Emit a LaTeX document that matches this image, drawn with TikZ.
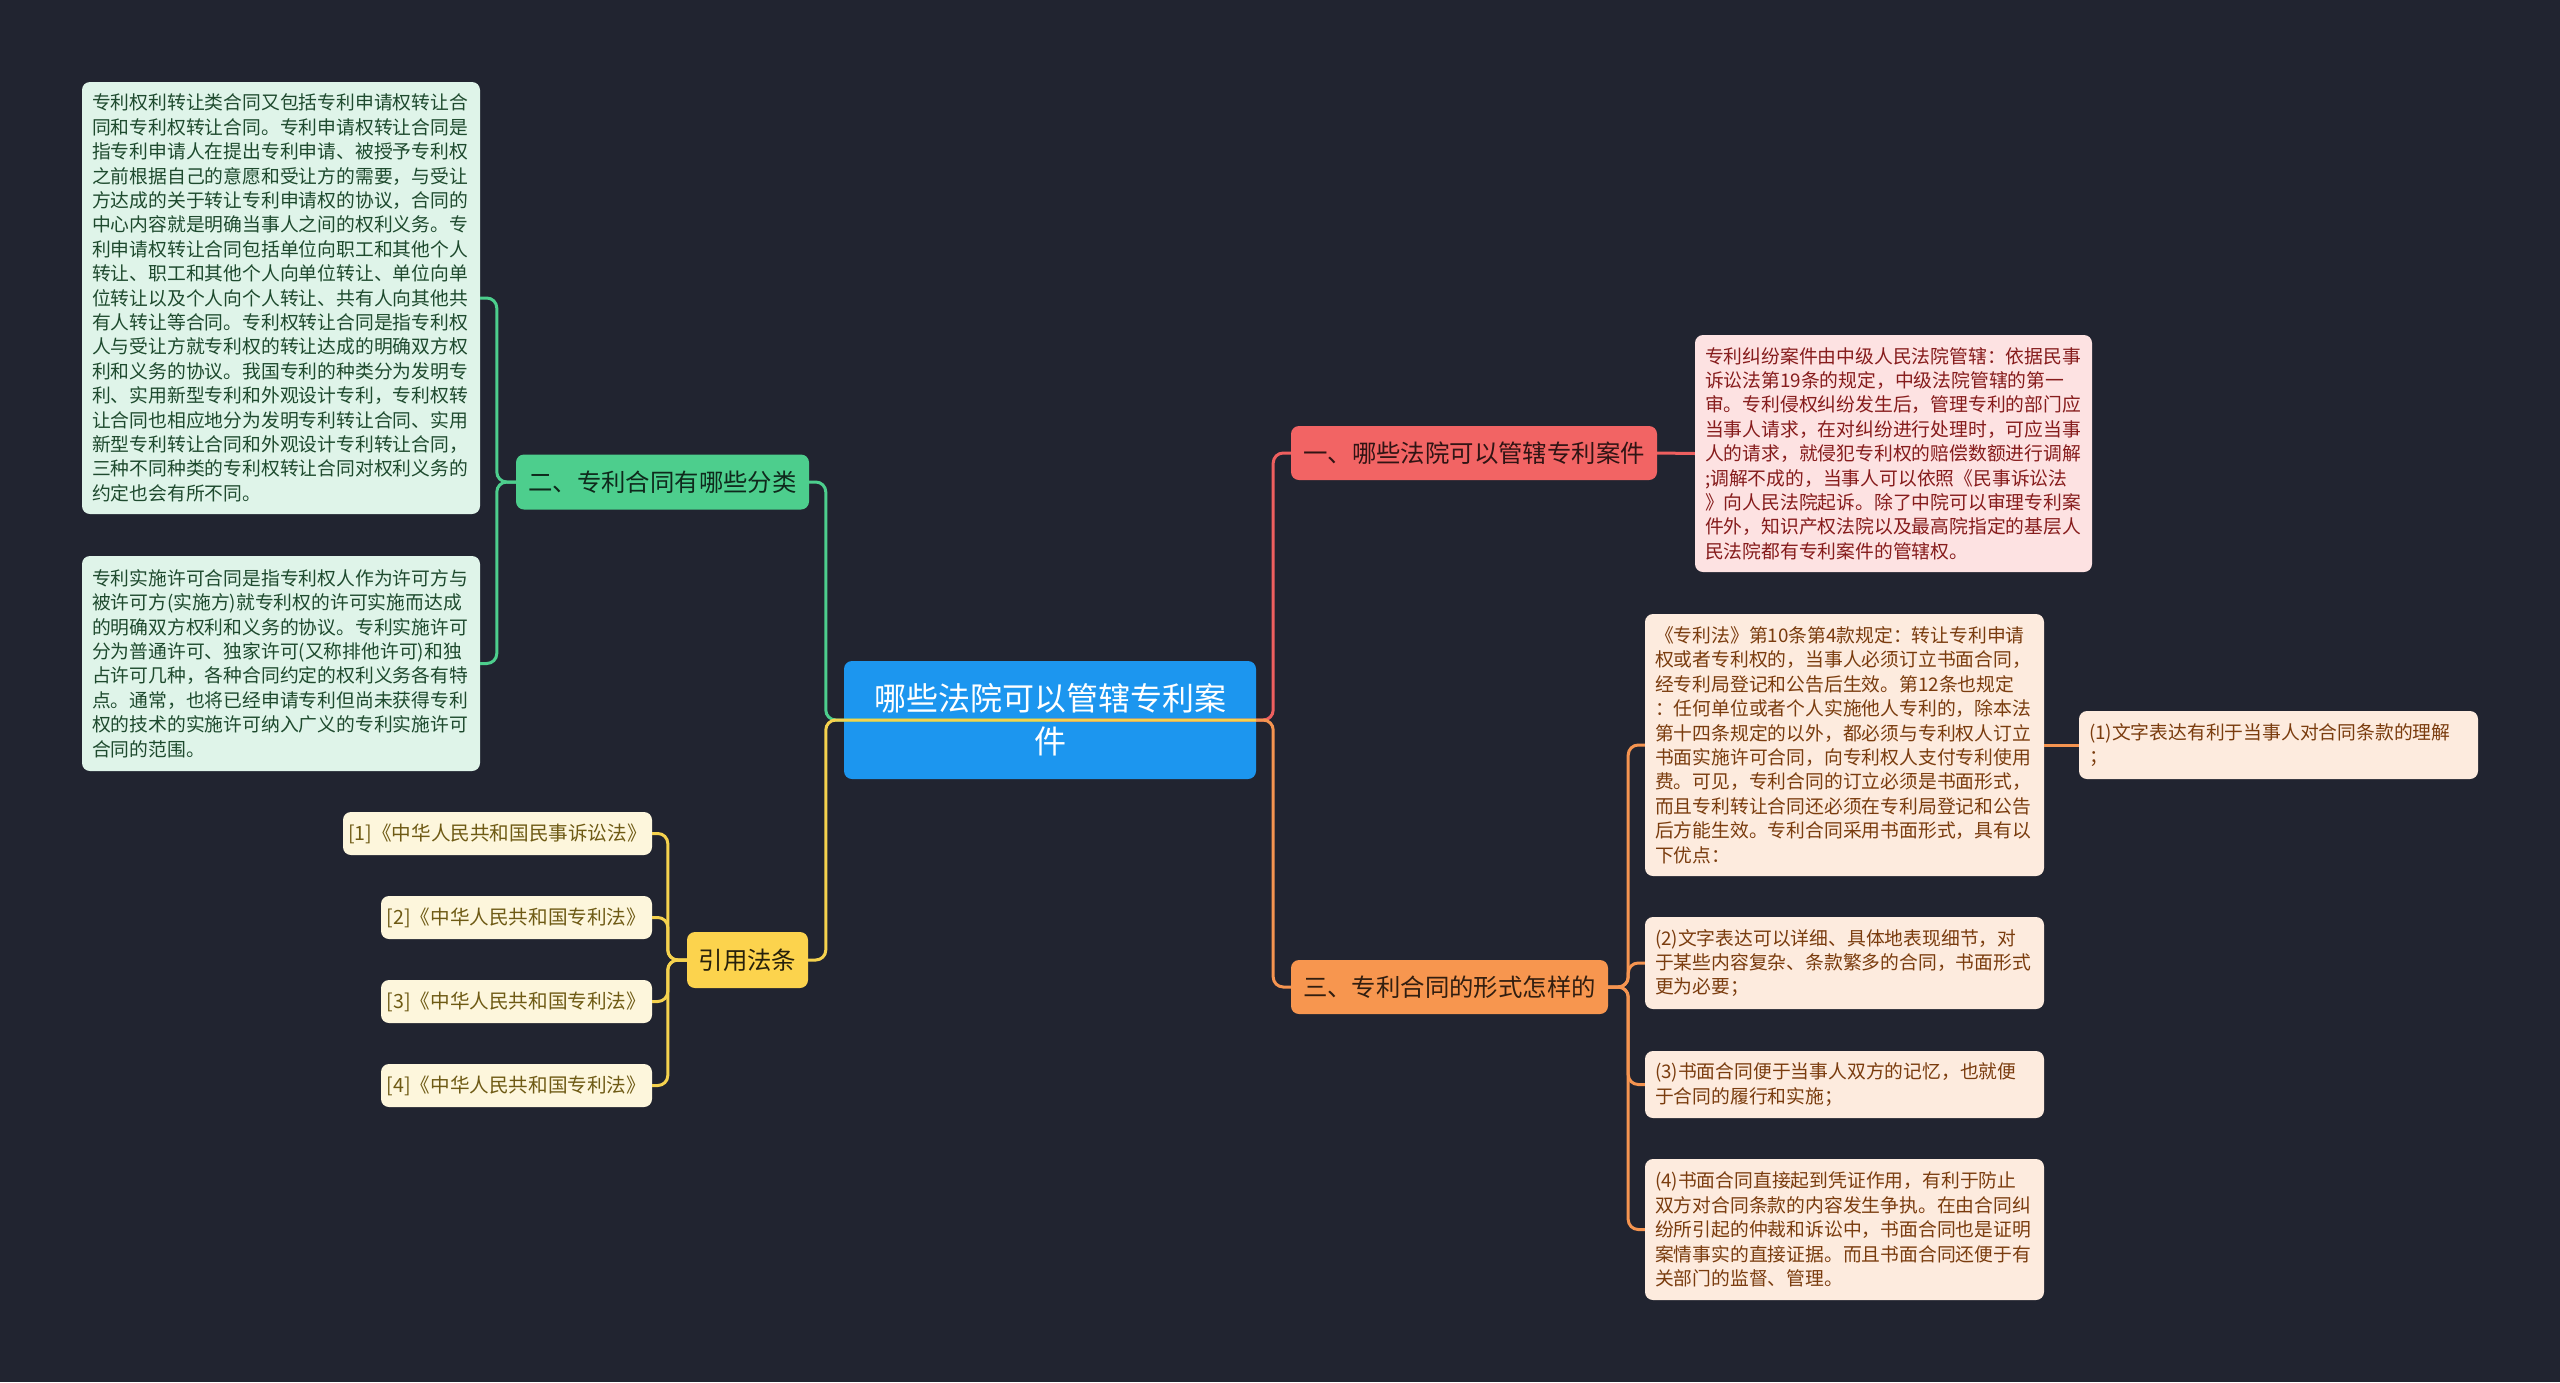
\documentclass[tikz,border=0pt]{standalone}
\usepackage{fontspec}
\setmainfont{Noto Sans CJK SC}
\definecolor{bg}{HTML}{212430}
\definecolor{rootc}{HTML}{1C96EF}
\definecolor{redc}{HTML}{F26464}
\definecolor{orgc}{HTML}{F7964F}
\definecolor{grnc}{HTML}{4DCE8D}
\definecolor{ylwc}{HTML}{FCD34D}
\definecolor{redln}{HTML}{EE5F5F}
\definecolor{orgln}{HTML}{F59450}
\definecolor{grnln}{HTML}{4DCE8D}
\definecolor{ylwln}{HTML}{F5D24E}
\definecolor{redfill}{HTML}{FDE2E2}
\definecolor{redtxt}{HTML}{861C1C}
\definecolor{orgfill}{HTML}{FDEBDE}
\definecolor{orgtxt}{HTML}{7A3C0E}
\definecolor{grnfill}{HTML}{DFF4E9}
\definecolor{grntxt}{HTML}{1E4A2E}
\definecolor{citfill}{HTML}{FDF6DC}
\definecolor{cittxt}{HTML}{6E5A14}
\begin{document}
\begin{tikzpicture}[x=1pt,y=-1pt,
  boxbase/.style={rounded corners=8pt, inner sep=0pt, anchor=center},
  detail/.style={boxbase, align=left, font=\fontsize{18.8}{24.4}\selectfont},
  lvlone/.style={boxbase, align=center, minimum height=54pt, font=\fontsize{24.4}{30}\selectfont},
  cite/.style={boxbase, align=center, minimum height=43pt, fill=citfill, text=cittxt, font=\fontsize{19.6}{24}\selectfont},
  conn/.style={line width=3pt, rounded corners=10pt}
]
\fill[bg] (0,0) rectangle (2560,1382);
\useasboundingbox (0,0) rectangle (2560,1382);

% root
\node[boxbase, fill=rootc, text=white, align=center, minimum width=412pt, minimum height=118pt,
  font=\fontsize{32}{43}\selectfont] (root) at (1050,720) {哪些法院可以管辖专利案\\件};

% level one
\node[lvlone, fill=redc, text=black!80!redc, minimum width=366pt] (n1) at (1474,453) {一、哪些法院可以管辖专利案件};
\node[lvlone, fill=orgc, text=black!80!orgc, minimum width=317pt] (n3) at (1449.5,987) {三、专利合同的形式怎样的};
\node[lvlone, fill=grnc, text=black!80!grnc, minimum width=293pt, minimum height=55pt] (n2) at (662.5,482) {二、专利合同有哪些分类};
\node[lvlone, fill=ylwc, text=black!85!ylwc, minimum width=121pt, minimum height=56pt] (n4) at (747.5,960) {引用法条};

% red detail
\node[detail, fill=redfill, text=redtxt, minimum width=397pt, minimum height=237pt, text width=377pt] (d1) at (1893.5,453.5) {专利纠纷案件由中级人民法院管辖：依据民事\\诉讼法第19条的规定，中级法院管辖的第一\\审。专利侵权纠纷发生后，管理专利的部门应\\当事人请求，在对纠纷进行处理时，可应当事\\人的请求，就侵犯专利权的赔偿数额进行调解\\;调解不成的，当事人可以依照《民事诉讼法\\》向人民法院起诉。除了中院可以审理专利案\\件外，知识产权法院以及最高院指定的基层人\\民法院都有专利案件的管辖权。};

% green details
\node[detail, fill=grnfill, text=grntxt, minimum width=398pt, minimum height=432pt, text width=378pt] (g1) at (281,298) {专利权利转让类合同又包括专利申请权转让合\\同和专利权转让合同。专利申请权转让合同是\\指专利申请人在提出专利申请、被授予专利权\\之前根据自己的意愿和受让方的需要，与受让\\方达成的关于转让专利申请权的协议，合同的\\中心内容就是明确当事人之间的权利义务。专\\利申请权转让合同包括单位向职工和其他个人\\转让、职工和其他个人向单位转让、单位向单\\位转让以及个人向个人转让、共有人向其他共\\有人转让等合同。专利权转让合同是指专利权\\人与受让方就专利权的转让达成的明确双方权\\利和义务的协议。我国专利的种类分为发明专\\利、实用新型专利和外观设计专利，专利权转\\让合同也相应地分为发明专利转让合同、实用\\新型专利转让合同和外观设计专利转让合同，\\三种不同种类的专利权转让合同对权利义务的\\约定也会有所不同。};
\node[detail, fill=grnfill, text=grntxt, minimum width=398pt, minimum height=215pt, text width=378pt] (g2) at (281,663.5) {专利实施许可合同是指专利权人作为许可方与\\被许可方(实施方)就专利权的许可实施而达成\\的明确双方权利和义务的协议。专利实施许可\\分为普通许可、独家许可(又称排他许可)和独\\占许可几种，各种合同约定的权利义务各有特\\点。通常，也将已经申请专利但尚未获得专利\\权的技术的实施许可纳入广义的专利实施许可\\合同的范围。};

% orange details
\node[detail, fill=orgfill, text=orgtxt, minimum width=399pt, minimum height=262pt, text width=379pt] (o0) at (1844.5,745) {《专利法》第10条第4款规定：转让专利申请\\权或者专利权的，当事人必须订立书面合同，\\经专利局登记和公告后生效。第12条也规定\\：任何单位或者个人实施他人专利的，除本法\\第十四条规定的以外，都必须与专利权人订立\\书面实施许可合同，向专利权人支付专利使用\\费。可见，专利合同的订立必须是书面形式，\\而且专利转让合同还必须在专利局登记和公告\\后方能生效。专利合同采用书面形式，具有以\\下优点：};
\node[detail, fill=orgfill, text=orgtxt, minimum width=399pt, minimum height=68pt, text width=379pt] (o1) at (2278.5,745) {(1)文字表达有利于当事人对合同条款的理解\\；};
\node[detail, fill=orgfill, text=orgtxt, minimum width=399pt, minimum height=92pt, text width=379pt] (o2) at (1844.5,963) {(2)文字表达可以详细、具体地表现细节，对\\于某些内容复杂、条款繁多的合同，书面形式\\更为必要；};
\node[detail, fill=orgfill, text=orgtxt, minimum width=399pt, minimum height=67pt, text width=379pt] (o3) at (1844.5,1084.5) {(3)书面合同便于当事人双方的记忆，也就便\\于合同的履行和实施；};
\node[detail, fill=orgfill, text=orgtxt, minimum width=399pt, minimum height=141pt, text width=379pt] (o4) at (1844.5,1229.5) {(4)书面合同直接起到凭证作用，有利于防止\\双方对合同条款的内容发生争执。在由合同纠\\纷所引起的仲裁和诉讼中，书面合同也是证明\\案情事实的直接证据。而且书面合同还便于有\\关部门的监督、管理。};

% citations
\node[cite, minimum width=309pt] (c1) at (497.5,833.5) {[1]《中华人民共和国民事诉讼法》};
\node[cite, minimum width=271pt] (c2) at (516.5,917.5) {[2]《中华人民共和国专利法》};
\node[cite, minimum width=271pt] (c3) at (516.5,1001.5) {[3]《中华人民共和国专利法》};
\node[cite, minimum width=271pt] (c4) at (516.5,1085.5) {[4]《中华人民共和国专利法》};

% connectors from root
\draw[conn, grnln] (root.center) -- (root.west) -- ++(-18,0) |- (n2.east);
\draw[conn, redln] (root.center) -- (root.east) -- ++(17,0) |- (n1.west);
\draw[conn, ylwln] (root.east) -- (root.west) -- ++(-18,0) |- (n4.east);
\draw[conn, orgln] (root.east) -- ++(17,0) |- (n3.west);

% green branch
\draw[conn, grnln] (n2.west) -- ++(-19,0) |- (g1.east);
\draw[conn, grnln] (n2.west) -- ++(-19,0) |- (g2.east);

% yellow branch
\draw[conn, ylwln] (n4.west) -- ++(-19,0) |- (c1.east);
\draw[conn, ylwln] (n4.west) -- ++(-19,0) |- (c2.east);
\draw[conn, ylwln] (n4.west) -- ++(-19,0) |- (c3.east);
\draw[conn, ylwln] (n4.west) -- ++(-19,0) |- (c4.east);

% red branch
\draw[conn, redln] (n1.east) -- (d1.west);

% orange branch
\draw[conn, orgln] (n3.east) -- ++(20,0) |- (o0.west);
\draw[conn, orgln] (n3.east) -- ++(20,0) |- (o2.west);
\draw[conn, orgln] (n3.east) -- ++(20,0) |- (o3.west);
\draw[conn, orgln] (n3.east) -- ++(20,0) |- (o4.west);
\draw[conn, orgln] (o0.east) -- (o1.west);
\end{tikzpicture}
\end{document}
